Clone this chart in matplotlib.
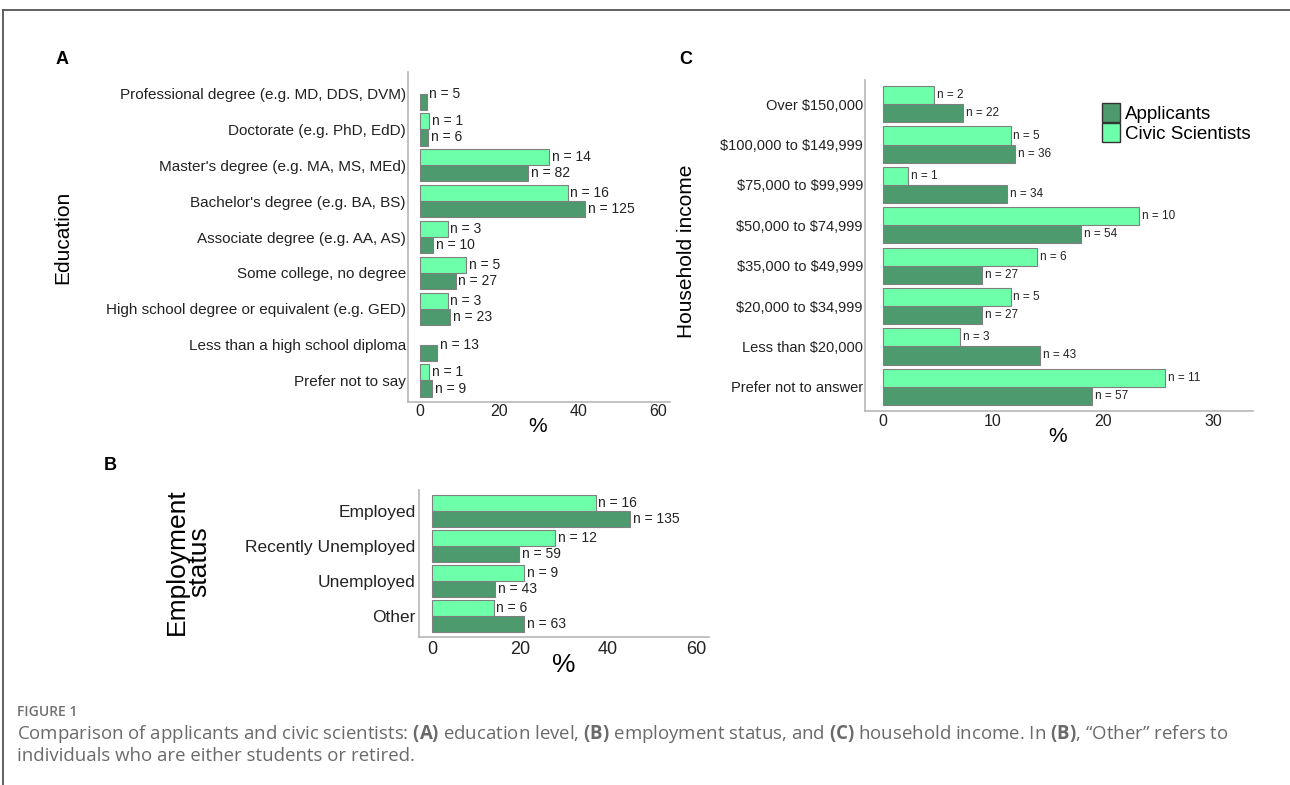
import numpy as np
import matplotlib
matplotlib.use("Agg")
import matplotlib.pyplot as plt
from matplotlib.patches import Patch
from matplotlib.lines import Line2D

# --- datos (porcentajes y conteos n) ---
edu_labels = ["Professional degree (e.g. MD, DDS, DVM)", "Doctorate (e.g. PhD, EdD)",
              "Master's degree (e.g. MA, MS, MEd)", "Bachelor's degree (e.g. BA, BS)",
              "Associate degree (e.g. AA, AS)", "Some college, no degree",
              "High school degree or equivalent (e.g. GED)",
              "Less than a high school diploma", "Prefer not to say"]
edu_app_pct = [1.7, 2.0, 27.3, 41.7, 3.3, 9.0, 7.7, 4.3, 3.0]
edu_app_n = [5, 6, 82, 125, 10, 27, 23, 13, 9]
edu_civ_pct = [0, 2.3, 32.6, 37.2, 7.0, 11.6, 7.0, 0, 2.3]
edu_civ_n = [0, 1, 14, 16, 3, 5, 3, 0, 1]

emp_labels = ["Employed", "Recently Unemployed", "Unemployed", "Other"]
emp_app_pct = [45.0, 19.7, 14.3, 21.0]
emp_app_n = [135, 59, 43, 63]
emp_civ_pct = [37.2, 27.9, 20.9, 14.0]
emp_civ_n = [16, 12, 9, 6]

inc_labels = ["Over $150,000", "$100,000 to $149,999", "$75,000 to $99,999",
              "$50,000 to $74,999", "$35,000 to $49,999", "$20,000 to $34,999",
              "Less than $20,000", "Prefer not to answer"]
inc_app_pct = [7.3, 12.0, 11.3, 18.0, 9.0, 9.0, 14.3, 19.0]
inc_app_n = [22, 36, 34, 54, 27, 27, 43, 57]
inc_civ_pct = [4.7, 11.6, 2.3, 23.3, 14.0, 11.6, 7.0, 25.6]
inc_civ_n = [2, 5, 1, 10, 6, 5, 3, 11]

series_names = ["Applicants", "Civic Scientists"]

plt.rcParams["font.family"] = ["Liberation Sans", "DejaVu Sans"]
plt.rcParams["text.parse_math"] = False
plt.rcParams["mathtext.fontset"] = "custom"
plt.rcParams["mathtext.rm"] = "Open Sans"
plt.rcParams["mathtext.bf"] = "Open Sans:bold"

W, H = 1290, 785
APP = "#4c9a6e"
CIV = "#6dffa9"
EDGE = "#808080"
SPINE = "#b8b8b8"

fig = plt.figure(figsize=(W / 100, H / 100), dpi=100)


def axes_px(l, t, r, b):
    return fig.add_axes([l / W, 1 - b / H, (r - l) / W, (b - t) / H])


def panel(ax, labels, app_pct, app_n, civ_pct, civ_n, xlim, ticks,
          fs_y, fs_x, fs_n, ypad, xpad):
    y = np.arange(len(labels))
    app_pct = np.asarray(app_pct, dtype=float)
    civ_pct = np.asarray(civ_pct, dtype=float)
    has_civ = np.asarray(civ_n) > 0

    ax.barh(y + 0.225, app_pct, height=0.45, color=APP, edgecolor=EDGE, linewidth=0.8)
    ax.barh(y[has_civ] - 0.225, civ_pct[has_civ], height=0.45, color=CIV,
            edgecolor=EDGE, linewidth=0.8)

    # etiquetas "n = ..." justo a la derecha de cada barra
    for i in y:
        ya = i + 0.225 if has_civ[i] else i
        ax.annotate(f"n = {app_n[i]}", (app_pct[i], ya), xytext=(2, 0),
                    textcoords="offset points", va="center", ha="left",
                    fontsize=fs_n, color="#222222")
        if has_civ[i]:
            ax.annotate(f"n = {civ_n[i]}", (civ_pct[i], i - 0.225), xytext=(2, 0),
                        textcoords="offset points", va="center", ha="left",
                        fontsize=fs_n, color="#222222")

    ax.set_ylim(len(labels) - 0.4, -0.6)
    ax.set_xlim(*xlim)
    ax.set_yticks(y)
    ax.set_yticklabels(labels, fontsize=fs_y, color="#222222")
    ax.set_xticks(ticks)
    ax.set_xticklabels([str(t) for t in ticks], fontsize=fs_x, color="#222222")
    ax.tick_params(axis="y", length=0, pad=ypad)
    ax.tick_params(axis="x", length=0, pad=xpad)
    for s in ["top", "right"]:
        ax.spines[s].set_visible(False)
    for s in ["left", "bottom"]:
        ax.spines[s].set_color(SPINE)
        ax.spines[s].set_linewidth(1.2)


# Panel A: educación
axA = axes_px(408, 72, 670, 402)
panel(axA, edu_labels, edu_app_pct, edu_app_n, edu_civ_pct, edu_civ_n,
      (-3, 63), [0, 20, 40, 60], 11, 11.5, 10, 1.5, 1.5)
fig.text(63 / W, 1 - 237 / H, "Education", rotation=90, ha="center", va="center",
         fontsize=15)
fig.text(538 / W, 1 - 427 / H, "%", ha="center", va="center", fontsize=15)

# Panel C: ingreso
axC = axes_px(865, 80, 1253, 411)
panel(axC, inc_labels, inc_app_pct, inc_app_n, inc_civ_pct, inc_civ_n,
      (-1.6, 33.6), [0, 10, 20, 30], 10.5, 11.5, 8.5, 1.5, 2.5)
fig.text(686 / W, 1 - 251 / H, "Household income", rotation=90, ha="center",
         va="center", fontsize=15)
fig.text(1058 / W, 1 - 436 / H, "%", ha="center", va="center", fontsize=15)

handles = [Patch(facecolor=APP, edgecolor="#333333"),
           Patch(facecolor=CIV, edgecolor="#333333")]
fig.legend(handles, series_names, loc="upper left",
           bbox_to_anchor=(1102 / W, 1 - 103 / H), frameon=False, fontsize=13.5,
           handlelength=0.95, handleheight=1.2, handletextpad=0.3,
           labelspacing=0.0, borderpad=0, borderaxespad=0)

# Panel B: empleo
axB = axes_px(419, 490, 709, 637)
panel(axB, emp_labels, emp_app_pct, emp_app_n, emp_civ_pct, emp_civ_n,
      (-3, 63), [0, 20, 40, 60], 12.5, 13, 10, 2.5, 3)
fig.text(188 / W, 1 - 562 / H, "Employment\nstatus", rotation=90, ha="center",
         va="center", fontsize=19, linespacing=0.95, multialignment="center")
fig.text(564 / W, 1 - 665 / H, "%", ha="center", va="center", fontsize=19)

# letras de panel
for lab, (px, py) in zip("ABC", [(62, 60), (110, 466), (686, 60)]):
    fig.text(px / W, 1 - py / H, lab, ha="center", va="center", fontsize=13,
             fontweight="bold")

# marco de la página
fig.add_artist(Line2D([3 / W, 1], [1 - 10 / H, 1 - 10 / H], color="#555555", lw=1.3))
fig.add_artist(Line2D([3 / W, 3 / W], [0, 1 - 10 / H], color="#555555", lw=1.3))

# pie de figura
fig.text(17 / W, 1 - 712 / H, "FIGURE 1", ha="left", va="center", fontsize=10,
         fontweight="semibold", color="#707070", family="Open Sans")
cap1 = (r"Comparison of applicants and civic scientists: $\mathbf{(A)}$ education level, "
        r"$\mathbf{(B)}$ employment status, and $\mathbf{(C)}$ household income. "
        r"In $\mathbf{(B)}$, “Other” refers to")
cap2 = "individuals who are either students or retired."
t1 = fig.text(17 / W, 1 - 739 / H, cap1, ha="left", va="baseline", fontsize=11.5,
              color="#6a6a6a", family="Open Sans", parse_math=True)
t2 = fig.text(17 / W, 1 - 761 / H, cap2, ha="left", va="baseline", fontsize=11.5,
              color="#6a6a6a", family="Open Sans")

# ajustar el tamaño del pie para que la primera línea ocupe el ancho del original
renderer = fig.canvas.get_renderer()
w = t1.get_window_extent(renderer).width
fs = 11.5 * 1211 / w
t1.set_fontsize(fs)
t2.set_fontsize(fs)

fig.savefig("out.png", dpi=100)
